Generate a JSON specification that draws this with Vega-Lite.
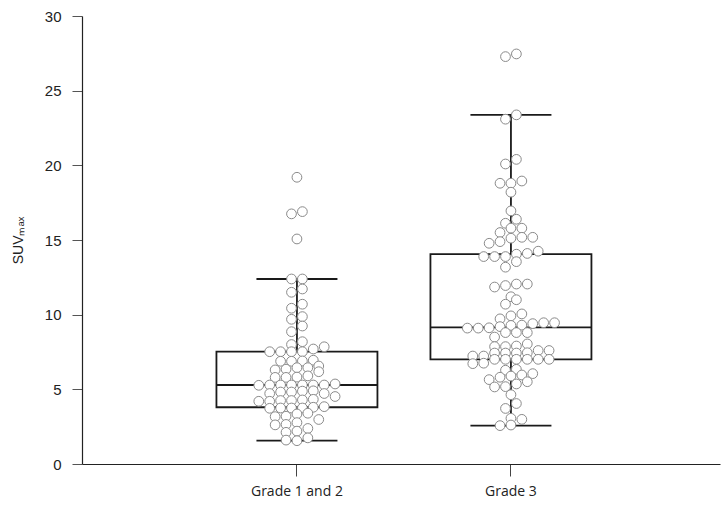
{
  "$schema": "https://vega.github.io/schema/vega-lite/v6.json",
  "width": 638,
  "height": 448,
  "autosize": {"type": "none"},
  "padding": {"left": 82, "top": 16, "right": 6, "bottom": 45},
  "background": "white",
  "config": {"view": {"stroke": null}, "font": "Liberation Sans"},
  "datasets": {
    "boxes": [
      {"grade": "Grade 1 and 2", "lo": 1.56, "q1": 3.8, "med": 5.29, "q3": 7.52, "hi": 12.39},
      {"grade": "Grade 3", "lo": 2.57, "q1": 7.01, "med": 9.15, "q3": 14.05, "hi": 23.38}
    ],
    "points": [
      {"grade": "Grade 1 and 2", "slot": 0, "suv": 19.2},
      {"grade": "Grade 1 and 2", "slot": -1, "suv": 16.75},
      {"grade": "Grade 1 and 2", "slot": 1, "suv": 16.9},
      {"grade": "Grade 1 and 2", "slot": 0, "suv": 15.07},
      {"grade": "Grade 1 and 2", "slot": -1, "suv": 12.39},
      {"grade": "Grade 1 and 2", "slot": 1, "suv": 12.39},
      {"grade": "Grade 1 and 2", "slot": -1, "suv": 11.5},
      {"grade": "Grade 1 and 2", "slot": 1, "suv": 11.72},
      {"grade": "Grade 1 and 2", "slot": -1, "suv": 10.43},
      {"grade": "Grade 1 and 2", "slot": 1, "suv": 10.7},
      {"grade": "Grade 1 and 2", "slot": -1, "suv": 9.69},
      {"grade": "Grade 1 and 2", "slot": 1, "suv": 9.87},
      {"grade": "Grade 1 and 2", "slot": 1, "suv": 9.24},
      {"grade": "Grade 1 and 2", "slot": -1, "suv": 8.86},
      {"grade": "Grade 1 and 2", "slot": 1, "suv": 8.19},
      {"grade": "Grade 1 and 2", "slot": -1, "suv": 8.0},
      {"grade": "Grade 1 and 2", "slot": 3, "suv": 7.7},
      {"grade": "Grade 1 and 2", "slot": 5, "suv": 7.85},
      {"grade": "Grade 1 and 2", "slot": -5, "suv": 7.52},
      {"grade": "Grade 1 and 2", "slot": -3, "suv": 7.52},
      {"grade": "Grade 1 and 2", "slot": -1, "suv": 7.52},
      {"grade": "Grade 1 and 2", "slot": 1, "suv": 7.52},
      {"grade": "Grade 1 and 2", "slot": -3, "suv": 6.88},
      {"grade": "Grade 1 and 2", "slot": -1, "suv": 6.88},
      {"grade": "Grade 1 and 2", "slot": 1, "suv": 6.9},
      {"grade": "Grade 1 and 2", "slot": 3, "suv": 6.95},
      {"grade": "Grade 1 and 2", "slot": -4, "suv": 6.3},
      {"grade": "Grade 1 and 2", "slot": -2, "suv": 6.35},
      {"grade": "Grade 1 and 2", "slot": 0, "suv": 6.45},
      {"grade": "Grade 1 and 2", "slot": 2, "suv": 6.45},
      {"grade": "Grade 1 and 2", "slot": 4, "suv": 6.56},
      {"grade": "Grade 1 and 2", "slot": 4, "suv": 6.18},
      {"grade": "Grade 1 and 2", "slot": -4, "suv": 5.8},
      {"grade": "Grade 1 and 2", "slot": -2, "suv": 5.8},
      {"grade": "Grade 1 and 2", "slot": 0, "suv": 5.82},
      {"grade": "Grade 1 and 2", "slot": 2, "suv": 5.9},
      {"grade": "Grade 1 and 2", "slot": -7, "suv": 5.27},
      {"grade": "Grade 1 and 2", "slot": -5, "suv": 5.29},
      {"grade": "Grade 1 and 2", "slot": -3, "suv": 5.29},
      {"grade": "Grade 1 and 2", "slot": -1, "suv": 5.29},
      {"grade": "Grade 1 and 2", "slot": 1, "suv": 5.29},
      {"grade": "Grade 1 and 2", "slot": 3, "suv": 5.29},
      {"grade": "Grade 1 and 2", "slot": 5, "suv": 5.29},
      {"grade": "Grade 1 and 2", "slot": 7, "suv": 5.36},
      {"grade": "Grade 1 and 2", "slot": -5, "suv": 4.72},
      {"grade": "Grade 1 and 2", "slot": -3, "suv": 4.82},
      {"grade": "Grade 1 and 2", "slot": -1, "suv": 4.82},
      {"grade": "Grade 1 and 2", "slot": 1, "suv": 4.88},
      {"grade": "Grade 1 and 2", "slot": 3, "suv": 4.9},
      {"grade": "Grade 1 and 2", "slot": 5, "suv": 4.72},
      {"grade": "Grade 1 and 2", "slot": 7, "suv": 4.52},
      {"grade": "Grade 1 and 2", "slot": -7, "suv": 4.2},
      {"grade": "Grade 1 and 2", "slot": -5, "suv": 4.2},
      {"grade": "Grade 1 and 2", "slot": -3, "suv": 4.25},
      {"grade": "Grade 1 and 2", "slot": -1, "suv": 4.25},
      {"grade": "Grade 1 and 2", "slot": 1, "suv": 4.29},
      {"grade": "Grade 1 and 2", "slot": 3, "suv": 4.33},
      {"grade": "Grade 1 and 2", "slot": 5, "suv": 3.84},
      {"grade": "Grade 1 and 2", "slot": -5, "suv": 3.73},
      {"grade": "Grade 1 and 2", "slot": -3, "suv": 3.75},
      {"grade": "Grade 1 and 2", "slot": -1, "suv": 3.75},
      {"grade": "Grade 1 and 2", "slot": 1, "suv": 3.75},
      {"grade": "Grade 1 and 2", "slot": 3, "suv": 3.8},
      {"grade": "Grade 1 and 2", "slot": -4, "suv": 3.17},
      {"grade": "Grade 1 and 2", "slot": -2, "suv": 3.2},
      {"grade": "Grade 1 and 2", "slot": 0, "suv": 3.35},
      {"grade": "Grade 1 and 2", "slot": 2, "suv": 3.4},
      {"grade": "Grade 1 and 2", "slot": 4, "suv": 2.98},
      {"grade": "Grade 1 and 2", "slot": -4, "suv": 2.62},
      {"grade": "Grade 1 and 2", "slot": -2, "suv": 2.65},
      {"grade": "Grade 1 and 2", "slot": 0, "suv": 2.77},
      {"grade": "Grade 1 and 2", "slot": 2, "suv": 2.38},
      {"grade": "Grade 1 and 2", "slot": -2, "suv": 2.12},
      {"grade": "Grade 1 and 2", "slot": 0, "suv": 2.2},
      {"grade": "Grade 1 and 2", "slot": -2, "suv": 1.6},
      {"grade": "Grade 1 and 2", "slot": 0, "suv": 1.56},
      {"grade": "Grade 1 and 2", "slot": 2, "suv": 1.75},
      {"grade": "Grade 3", "slot": -1, "suv": 27.28},
      {"grade": "Grade 3", "slot": 1, "suv": 27.46},
      {"grade": "Grade 3", "slot": -1, "suv": 23.09},
      {"grade": "Grade 3", "slot": 1, "suv": 23.38},
      {"grade": "Grade 3", "slot": -1, "suv": 20.09},
      {"grade": "Grade 3", "slot": 1, "suv": 20.4},
      {"grade": "Grade 3", "slot": -2, "suv": 18.8},
      {"grade": "Grade 3", "slot": 0, "suv": 18.8},
      {"grade": "Grade 3", "slot": 2, "suv": 18.95},
      {"grade": "Grade 3", "slot": 0, "suv": 18.2},
      {"grade": "Grade 3", "slot": 0, "suv": 16.95},
      {"grade": "Grade 3", "slot": -1, "suv": 16.12},
      {"grade": "Grade 3", "slot": 1, "suv": 16.39},
      {"grade": "Grade 3", "slot": -2, "suv": 15.5},
      {"grade": "Grade 3", "slot": 0, "suv": 15.79},
      {"grade": "Grade 3", "slot": 2, "suv": 15.79},
      {"grade": "Grade 3", "slot": -4, "suv": 14.78},
      {"grade": "Grade 3", "slot": -2, "suv": 14.89},
      {"grade": "Grade 3", "slot": 0, "suv": 15.12},
      {"grade": "Grade 3", "slot": 2, "suv": 15.18},
      {"grade": "Grade 3", "slot": 4, "suv": 15.18},
      {"grade": "Grade 3", "slot": -5, "suv": 13.89},
      {"grade": "Grade 3", "slot": -3, "suv": 13.89},
      {"grade": "Grade 3", "slot": -1, "suv": 13.89},
      {"grade": "Grade 3", "slot": 1, "suv": 14.05},
      {"grade": "Grade 3", "slot": 3, "suv": 14.1},
      {"grade": "Grade 3", "slot": 5, "suv": 14.25},
      {"grade": "Grade 3", "slot": -1, "suv": 13.18},
      {"grade": "Grade 3", "slot": 1, "suv": 13.55},
      {"grade": "Grade 3", "slot": -3, "suv": 11.85},
      {"grade": "Grade 3", "slot": -1, "suv": 11.95},
      {"grade": "Grade 3", "slot": 1, "suv": 12.05},
      {"grade": "Grade 3", "slot": 3, "suv": 12.05},
      {"grade": "Grade 3", "slot": 0, "suv": 11.2},
      {"grade": "Grade 3", "slot": 1, "suv": 11.0},
      {"grade": "Grade 3", "slot": -1, "suv": 10.7},
      {"grade": "Grade 3", "slot": -2, "suv": 9.72},
      {"grade": "Grade 3", "slot": 0, "suv": 9.92},
      {"grade": "Grade 3", "slot": 2, "suv": 10.05},
      {"grade": "Grade 3", "slot": -8, "suv": 9.1},
      {"grade": "Grade 3", "slot": -6, "suv": 9.1},
      {"grade": "Grade 3", "slot": -4, "suv": 9.12},
      {"grade": "Grade 3", "slot": -2, "suv": 9.2},
      {"grade": "Grade 3", "slot": 0, "suv": 9.28},
      {"grade": "Grade 3", "slot": 2, "suv": 9.3},
      {"grade": "Grade 3", "slot": 4, "suv": 9.4},
      {"grade": "Grade 3", "slot": 6, "suv": 9.46},
      {"grade": "Grade 3", "slot": 8, "suv": 9.46},
      {"grade": "Grade 3", "slot": -3, "suv": 8.5},
      {"grade": "Grade 3", "slot": -1, "suv": 8.8},
      {"grade": "Grade 3", "slot": 1, "suv": 8.8},
      {"grade": "Grade 3", "slot": 3, "suv": 8.8},
      {"grade": "Grade 3", "slot": -3, "suv": 7.86},
      {"grade": "Grade 3", "slot": -1, "suv": 7.86},
      {"grade": "Grade 3", "slot": 1, "suv": 7.9},
      {"grade": "Grade 3", "slot": 3, "suv": 8.04},
      {"grade": "Grade 3", "slot": -3, "suv": 7.43},
      {"grade": "Grade 3", "slot": -1, "suv": 7.43},
      {"grade": "Grade 3", "slot": 1, "suv": 7.43},
      {"grade": "Grade 3", "slot": 3, "suv": 7.45},
      {"grade": "Grade 3", "slot": 5, "suv": 7.6},
      {"grade": "Grade 3", "slot": 7, "suv": 7.6},
      {"grade": "Grade 3", "slot": -7, "suv": 7.23},
      {"grade": "Grade 3", "slot": -5, "suv": 7.23},
      {"grade": "Grade 3", "slot": -3, "suv": 7.01},
      {"grade": "Grade 3", "slot": -1, "suv": 7.01},
      {"grade": "Grade 3", "slot": 1, "suv": 7.01},
      {"grade": "Grade 3", "slot": 3, "suv": 7.01},
      {"grade": "Grade 3", "slot": 5, "suv": 7.01},
      {"grade": "Grade 3", "slot": 7, "suv": 7.01},
      {"grade": "Grade 3", "slot": -7, "suv": 6.72},
      {"grade": "Grade 3", "slot": -5, "suv": 6.75},
      {"grade": "Grade 3", "slot": -1, "suv": 6.28},
      {"grade": "Grade 3", "slot": 1, "suv": 6.34},
      {"grade": "Grade 3", "slot": 4, "suv": 6.05},
      {"grade": "Grade 3", "slot": -4, "suv": 5.65},
      {"grade": "Grade 3", "slot": -2, "suv": 5.81},
      {"grade": "Grade 3", "slot": 0, "suv": 5.89},
      {"grade": "Grade 3", "slot": 2, "suv": 5.96},
      {"grade": "Grade 3", "slot": -3, "suv": 5.16},
      {"grade": "Grade 3", "slot": -1, "suv": 5.18},
      {"grade": "Grade 3", "slot": 1, "suv": 5.36},
      {"grade": "Grade 3", "slot": 3, "suv": 5.51},
      {"grade": "Grade 3", "slot": 0, "suv": 4.64},
      {"grade": "Grade 3", "slot": -1, "suv": 3.72},
      {"grade": "Grade 3", "slot": 1, "suv": 4.05},
      {"grade": "Grade 3", "slot": 0, "suv": 3.06},
      {"grade": "Grade 3", "slot": 2, "suv": 2.99},
      {"grade": "Grade 3", "slot": -2, "suv": 2.57},
      {"grade": "Grade 3", "slot": 0, "suv": 2.61}
    ]
  },
  "encoding": {
    "x": {
      "field": "grade",
      "type": "nominal",
      "sort": ["Grade 1 and 2", "Grade 3"],
      "scale": {"domain": ["Grade 1 and 2", "Grade 3"], "paddingInner": 0, "paddingOuter": 0.4907, "align": 0.514},
      "axis": {
        "title": null,
        "labelAngle": 0,
        "labelFont": "Open Sans",
        "labelFontSize": 14,
        "labelColor": "#222",
        "labelPadding": 8,
        "tickSize": 12,
        "tickColor": "#444",
        "domainColor": "#222",
        "domainWidth": 1.2,
        "grid": false
      }
    }
  },
  "layer": [
    {
      "data": {"name": "boxes"},
      "mark": {"type": "rule", "color": "#1a1a1a", "strokeWidth": 1.8},
      "encoding": {
        "y": {
          "field": "lo",
          "type": "quantitative",
          "title": "SUVₘₐₓ",
          "scale": {"domain": [0, 30], "nice": false},
          "axis": {
            "values": [0, 5, 10, 15, 20, 25, 30],
            "titleFont": "Liberation Sans",
            "titleFontSize": 14,
            "titleFontWeight": "normal",
            "titleColor": "#222",
            "titlePadding": 19,
            "labelFont": "Liberation Sans",
            "labelFontSize": 15,
            "labelColor": "#222",
            "labelPadding": 11,
            "tickSize": 10,
            "tickColor": "#555",
            "domainColor": "#222",
            "domainWidth": 1.2,
            "grid": false
          }
        },
        "y2": {"field": "hi"}
      }
    },
    {
      "data": {"name": "boxes"},
      "mark": {"type": "tick", "color": "#1a1a1a", "opacity": 1, "thickness": 1.8, "size": 81},
      "encoding": {
        "y": {"field": "lo", "type": "quantitative", "title": "SUVₘₐₓ", "scale": {"domain": [0, 30], "nice": false}}
      }
    },
    {
      "data": {"name": "boxes"},
      "mark": {"type": "tick", "color": "#1a1a1a", "opacity": 1, "thickness": 1.8, "size": 81},
      "encoding": {
        "y": {"field": "hi", "type": "quantitative", "title": "SUVₘₐₓ", "scale": {"domain": [0, 30], "nice": false}}
      }
    },
    {
      "data": {"name": "boxes"},
      "mark": {"type": "bar", "fill": "white", "opacity": 1, "stroke": "#1a1a1a", "strokeWidth": 1.8, "width": 161},
      "encoding": {
        "y": {"field": "q1", "type": "quantitative", "title": "SUVₘₐₓ", "scale": {"domain": [0, 30], "nice": false}},
        "y2": {"field": "q3"}
      }
    },
    {
      "data": {"name": "boxes"},
      "mark": {"type": "tick", "color": "#1a1a1a", "opacity": 1, "thickness": 1.8, "size": 161},
      "encoding": {
        "y": {"field": "med", "type": "quantitative", "title": "SUVₘₐₓ", "scale": {"domain": [0, 30], "nice": false}}
      }
    },
    {
      "data": {"name": "points"},
      "mark": {"type": "point", "shape": "circle", "filled": false, "fill": "white", "fillOpacity": 1, "stroke": "#8a8a8a", "strokeWidth": 1, "strokeOpacity": 1, "opacity": 1, "size": 95},
      "encoding": {
        "xOffset": {"field": "slot", "type": "quantitative", "scale": {"domain": [-20, 20], "range": [-2, 216]}},
        "y": {"field": "suv", "type": "quantitative", "title": "SUVₘₐₓ", "scale": {"domain": [0, 30], "nice": false}}
      }
    }
  ]
}
